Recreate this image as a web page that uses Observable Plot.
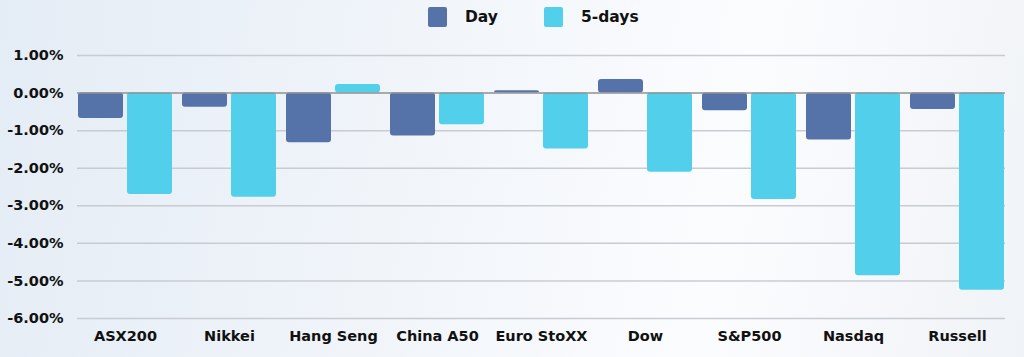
<!DOCTYPE html>
<html><head><meta charset="utf-8">
<script src="https://cdn.jsdelivr.net/npm/d3@7"></script>
<script src="https://cdn.jsdelivr.net/npm/@observablehq/plot@0.6"></script>
<style>
html,body{margin:0;padding:0;width:1024px;height:357px;overflow:hidden;}
body{background:linear-gradient(100deg,#e4ecf5 0%,#f1f5fa 40%,#fbfcfe 70%,#f0f3f7 100%);font-family:"DejaVu Sans",sans-serif;}
#legend{position:relative;height:35px;}
.sw{position:absolute;top:7px;width:19px;height:20px;border-radius:2px}
.lt{position:absolute;top:5px;font-weight:700;font-size:15.5px;color:#111;line-height:24px}
#chart svg{display:block}
</style></head><body>
<div id="legend"></div><div id="chart"></div>
<script>
const categories = ["ASX200","Nikkei","Hang Seng","China A50","Euro StoXX","Dow","S&P500","Nasdaq","Russell"];
const dayValues = [-0.68,-0.38,-1.32,-1.14,0.06,0.36,-0.47,-1.25,-0.44];
const fiveDayValues = [-2.70,-2.77,0.23,-0.84,-1.49,-2.11,-2.83,-4.86,-5.25];
const yTicks = [1,0,-1,-2,-3,-4,-5,-6];
const seriesNames = ["Day","5-days"];
const seriesColors = ["#5673a9","#52cfea"];

const legend = document.getElementById("legend");
const legendPos = [[428,465],[544,581]];
seriesNames.forEach((n,i)=>{
  const s=document.createElement("div");s.className="sw";s.style.left=legendPos[i][0]+"px";s.style.background=seriesColors[i];legend.appendChild(s);
  const t=document.createElement("div");t.className="lt";t.style.left=legendPos[i][1]+"px";t.textContent=n;legend.appendChild(t);
});

const dayData = categories.map((c,i)=>({index:c, value:dayValues[i]}));
const fiveData = categories.map((c,i)=>({index:c, value:fiveDayValues[i]}));

const chart = Plot.plot({
  width:1024, height:322, marginLeft:77, marginRight:19, marginTop:20, marginBottom:39,
  style:{background:"transparent", fontFamily:"DejaVu Sans", fontWeight:700, fontSize:"14.5px", color:"#111"},
  x:{domain:categories, paddingInner:0.1, paddingOuter:0, tickSize:0, tickPadding:12, label:null},
  y:{domain:[-6,1], ticks:yTicks, tickFormat:d=>d.toFixed(2)+"%", tickSize:0, tickPadding:14, label:null},
  marks:[
    Plot.ruleY(yTicks.filter(d=>d!==0), {stroke:"#c8ccd1", strokeWidth:1.5}),
    Plot.barY(dayData, {x:"index", y:"value", fill:seriesColors[0], insetRight:49, rx:3}),
    Plot.barY(fiveData, {x:"index", y:"value", fill:seriesColors[1], insetLeft:49, rx:3}),
    Plot.ruleY([0], {stroke:"#909090", strokeWidth:1.5})
  ]
});
document.getElementById("chart").appendChild(chart);
</script>
</body></html>
